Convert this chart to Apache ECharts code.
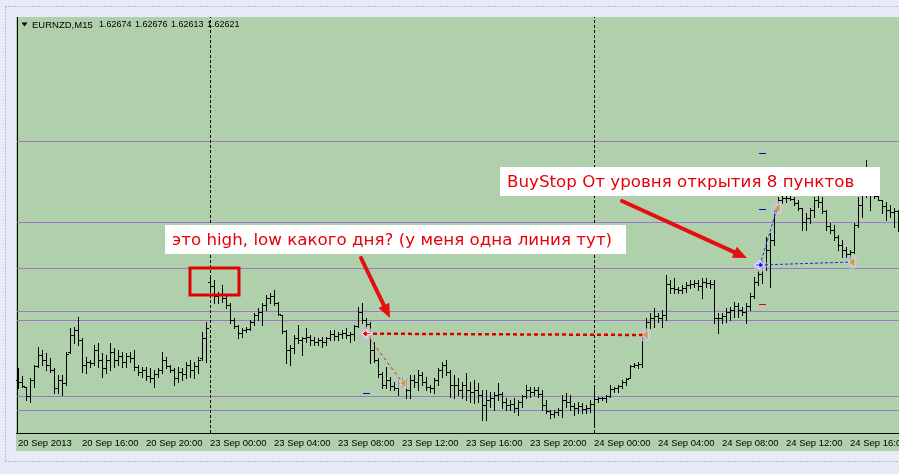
<!DOCTYPE html>
<html><head><meta charset="utf-8">
<script src="https://cdn.jsdelivr.net/npm/echarts@6/dist/echarts.min.js"></script>
<style>html,body{margin:0;padding:0;background:#e9eaf8}#c{width:899px;height:474px}</style>
</head><body><div id="c"></div><script>
// ---- data (EURNZD M15, 20 Sep 2013 12:00 .. 24 Sep 2013 ~19:00) ----
const tickLabels = ["20 Sep 2013","20 Sep 16:00","20 Sep 20:00","23 Sep 00:00","23 Sep 04:00","23 Sep 08:00","23 Sep 12:00","23 Sep 16:00","23 Sep 20:00","24 Sep 00:00","24 Sep 04:00","24 Sep 08:00","24 Sep 12:00","24 Sep 16:00"];
const openP = [
1.62166,1.62160,1.62145,1.62118,1.62166,1.62208,1.62241,1.62226,1.62211,1.62196,
1.62142,1.62166,1.62157,1.62250,1.62301,1.62316,1.62286,1.62211,1.62220,1.62217,
1.62256,1.62226,1.62202,1.62226,1.62250,1.62226,1.62238,1.62220,1.62238,1.62232,
1.62205,1.62190,1.62196,1.62178,1.62172,1.62184,1.62196,1.62226,1.62208,1.62196,
1.62172,1.62190,1.62184,1.62211,1.62196,1.62208,1.62232,1.62292,1.62460,1.62448,
1.62418,1.62424,1.62412,1.62391,1.62346,1.62328,1.62307,1.62316,1.62319,1.62340,
1.62361,1.62370,1.62391,1.62412,1.62418,1.62397,1.62361,1.62313,1.62256,1.62262,
1.62292,1.62286,1.62292,1.62295,1.62286,1.62280,1.62286,1.62280,1.62292,1.62304,
1.62298,1.62304,1.62307,1.62301,1.62304,1.62328,1.62370,1.62346,1.62334,1.62256,
1.62226,1.62184,1.62151,1.62166,1.62148,1.62142,1.62157,1.62160,1.62136,1.62166,
1.62160,1.62181,1.62160,1.62145,1.62142,1.62166,1.62196,1.62211,1.62190,1.62151,
1.62151,1.62136,1.62151,1.62136,1.62130,1.62136,1.62121,1.62091,1.62106,1.62112,
1.62121,1.62124,1.62100,1.62091,1.62094,1.62082,1.62100,1.62118,1.62136,1.62130,
1.62136,1.62124,1.62091,1.62073,1.62064,1.62070,1.62076,1.62106,1.62100,1.62088,
1.62082,1.62088,1.62079,1.62082,1.62094,1.62109,1.62112,1.62112,1.62118,1.62139,
1.62142,1.62148,1.62160,1.62172,1.62208,1.62211,1.62214,1.62304,1.62340,1.62352,
1.62358,1.62352,1.62361,1.62454,1.62442,1.62439,1.62436,1.62442,1.62451,1.62454,
1.62457,1.62448,1.62460,1.62457,1.62454,1.62352,1.62352,1.62358,1.62370,1.62376,
1.62388,1.62376,1.62370,1.62388,1.62418,1.62460,1.62484,1.62511,1.62556,1.62586,
1.62679,1.62706,1.62712,1.62712,1.62709,1.62697,1.62682,1.62640,1.62652,1.62676,
1.62706,1.62700,1.62673,1.62628,1.62616,1.62595,1.62571,1.62556,1.62544,1.62550,
1.62631,1.62691,1.62730,1.62736,1.62721,1.62718,1.62706,1.62688,1.62676,1.62670,
1.62674];
const highP = [
1.62202,1.62178,1.62145,1.62172,1.62211,1.62265,1.62256,1.62247,1.62232,1.62202,
1.62181,1.62181,1.62250,1.62322,1.62325,1.62355,1.62292,1.62235,1.62226,1.62271,
1.62277,1.62247,1.62241,1.62277,1.62262,1.62256,1.62250,1.62247,1.62250,1.62256,
1.62211,1.62205,1.62205,1.62202,1.62196,1.62202,1.62250,1.62235,1.62211,1.62202,
1.62205,1.62202,1.62220,1.62226,1.62220,1.62235,1.62310,1.62340,1.62472,1.62466,
1.62430,1.62451,1.62421,1.62397,1.62352,1.62331,1.62322,1.62325,1.62346,1.62367,
1.62382,1.62397,1.62421,1.62427,1.62436,1.62400,1.62361,1.62316,1.62271,1.62301,
1.62331,1.62295,1.62322,1.62301,1.62295,1.62292,1.62295,1.62295,1.62316,1.62316,
1.62310,1.62316,1.62322,1.62310,1.62331,1.62385,1.62397,1.62352,1.62340,1.62280,
1.62232,1.62190,1.62205,1.62175,1.62160,1.62166,1.62175,1.62172,1.62181,1.62181,
1.62196,1.62190,1.62175,1.62151,1.62172,1.62202,1.62220,1.62226,1.62196,1.62181,
1.62172,1.62160,1.62187,1.62160,1.62166,1.62157,1.62136,1.62136,1.62130,1.62130,
1.62157,1.62130,1.62112,1.62106,1.62112,1.62106,1.62121,1.62151,1.62145,1.62145,
1.62145,1.62136,1.62106,1.62076,1.62076,1.62082,1.62121,1.62127,1.62121,1.62097,
1.62100,1.62097,1.62091,1.62106,1.62142,1.62115,1.62115,1.62121,1.62151,1.62145,
1.62151,1.62166,1.62172,1.62211,1.62217,1.62220,1.62295,1.62352,1.62367,1.62382,
1.62367,1.62376,1.62481,1.62466,1.62472,1.62445,1.62451,1.62460,1.62466,1.62466,
1.62466,1.62472,1.62472,1.62466,1.62466,1.62367,1.62367,1.62382,1.62385,1.62400,
1.62397,1.62385,1.62397,1.62427,1.62475,1.62496,1.62526,1.62595,1.62607,1.62682,
1.62715,1.62727,1.62721,1.62721,1.62715,1.62706,1.62682,1.62667,1.62682,1.62715,
1.62727,1.62715,1.62676,1.62637,1.62631,1.62601,1.62586,1.62565,1.62556,1.62637,
1.62715,1.62745,1.62826,1.62745,1.62727,1.62736,1.62706,1.62700,1.62691,1.62682,
1.62676];
const lowP = [
1.62142,1.62145,1.62106,1.62100,1.62145,1.62205,1.62211,1.62196,1.62190,1.62127,
1.62127,1.62121,1.62151,1.62247,1.62277,1.62271,1.62190,1.62187,1.62205,1.62211,
1.62205,1.62175,1.62187,1.62196,1.62205,1.62211,1.62205,1.62205,1.62220,1.62196,
1.62181,1.62175,1.62166,1.62160,1.62145,1.62175,1.62187,1.62202,1.62190,1.62151,
1.62160,1.62166,1.62172,1.62175,1.62172,1.62187,1.62226,1.62220,1.62436,1.62397,
1.62397,1.62400,1.62382,1.62337,1.62322,1.62292,1.62295,1.62310,1.62316,1.62331,
1.62346,1.62331,1.62376,1.62397,1.62391,1.62361,1.62307,1.62217,1.62211,1.62247,
1.62277,1.62241,1.62280,1.62271,1.62271,1.62271,1.62265,1.62271,1.62286,1.62286,
1.62286,1.62292,1.62292,1.62280,1.62286,1.62325,1.62337,1.62301,1.62217,1.62220,
1.62175,1.62142,1.62142,1.62136,1.62136,1.62121,1.62145,1.62112,1.62112,1.62145,
1.62136,1.62151,1.62136,1.62130,1.62127,1.62151,1.62175,1.62181,1.62115,1.62112,
1.62121,1.62112,1.62106,1.62100,1.62097,1.62100,1.62046,1.62046,1.62085,1.62076,
1.62106,1.62082,1.62076,1.62076,1.62070,1.62061,1.62085,1.62112,1.62115,1.62121,
1.62115,1.62076,1.62067,1.62052,1.62055,1.62061,1.62055,1.62085,1.62076,1.62061,
1.62067,1.62067,1.62067,1.62070,1.62031,1.62100,1.62106,1.62100,1.62115,1.62130,
1.62130,1.62142,1.62151,1.62172,1.62205,1.62202,1.62205,1.62301,1.62322,1.62325,
1.62340,1.62325,1.62346,1.62427,1.62427,1.62427,1.62427,1.62430,1.62442,1.62445,
1.62436,1.62412,1.62445,1.62442,1.62337,1.62307,1.62337,1.62340,1.62346,1.62355,
1.62355,1.62361,1.62337,1.62376,1.62412,1.62451,1.62457,1.62496,1.62445,1.62571,
1.62676,1.62697,1.62700,1.62706,1.62691,1.62676,1.62616,1.62616,1.62637,1.62655,
1.62685,1.62667,1.62616,1.62607,1.62586,1.62556,1.62535,1.62535,1.62517,1.62547,
1.62625,1.62655,1.62715,1.62676,1.62712,1.62706,1.62667,1.62646,1.62655,1.62625,
1.62613];
const closeP = [
1.62160,1.62148,1.62118,1.62166,1.62208,1.62241,1.62226,1.62211,1.62196,1.62142,
1.62166,1.62157,1.62244,1.62301,1.62316,1.62286,1.62211,1.62220,1.62217,1.62256,
1.62226,1.62202,1.62226,1.62250,1.62226,1.62238,1.62220,1.62238,1.62232,1.62205,
1.62190,1.62196,1.62178,1.62172,1.62184,1.62196,1.62226,1.62208,1.62196,1.62172,
1.62190,1.62184,1.62211,1.62196,1.62208,1.62226,1.62292,1.62322,1.62448,1.62418,
1.62424,1.62412,1.62391,1.62346,1.62328,1.62307,1.62316,1.62319,1.62340,1.62361,
1.62370,1.62391,1.62412,1.62418,1.62397,1.62364,1.62313,1.62256,1.62262,1.62292,
1.62286,1.62292,1.62295,1.62286,1.62280,1.62286,1.62280,1.62292,1.62304,1.62298,
1.62304,1.62307,1.62301,1.62304,1.62328,1.62370,1.62346,1.62334,1.62256,1.62226,
1.62184,1.62151,1.62166,1.62148,1.62142,1.62157,1.62160,1.62136,1.62166,1.62160,
1.62181,1.62160,1.62145,1.62142,1.62166,1.62196,1.62211,1.62190,1.62151,1.62151,
1.62136,1.62151,1.62136,1.62130,1.62136,1.62121,1.62091,1.62106,1.62112,1.62121,
1.62124,1.62100,1.62091,1.62094,1.62082,1.62100,1.62118,1.62136,1.62130,1.62136,
1.62124,1.62091,1.62073,1.62064,1.62070,1.62076,1.62106,1.62100,1.62088,1.62082,
1.62088,1.62079,1.62082,1.62094,1.62109,1.62112,1.62112,1.62118,1.62139,1.62142,
1.62148,1.62160,1.62169,1.62208,1.62211,1.62214,1.62292,1.62340,1.62352,1.62358,
1.62352,1.62361,1.62454,1.62442,1.62439,1.62436,1.62442,1.62451,1.62454,1.62457,
1.62448,1.62460,1.62457,1.62454,1.62352,1.62352,1.62358,1.62370,1.62376,1.62388,
1.62376,1.62370,1.62388,1.62418,1.62460,1.62484,1.62511,1.62556,1.62586,1.62676,
1.62706,1.62712,1.62712,1.62709,1.62697,1.62682,1.62640,1.62652,1.62676,1.62706,
1.62700,1.62673,1.62628,1.62616,1.62595,1.62571,1.62556,1.62544,1.62550,1.62631,
1.62691,1.62730,1.62736,1.62721,1.62718,1.62706,1.62688,1.62676,1.62670,1.62673,
1.62621];
const levels = [1.62880,1.62638,1.62499,1.62373,1.62346,1.62115,1.62073];
const separatorBars = [48,144];
const headerValues = ["1.62674","1.62676","1.62613","1.62621"];
const symbolName = "EURNZD,M15";
const note1 = "это high, low какого дня? (у меня одна линия тут)";
const note2 = "BuyStop От уровня открытия 8 пунктов";
// trade / annotation anchors: [bar index, price]
const sellOpen = [87, 1.62305], sellClose1 = [96.2, 1.62157], sellClose2 = [156.8, 1.62301];
const buyOpen = [185.5, 1.62511], buyClose1 = [189.8, 1.62682], buyClose2 = [208.5, 1.62520];
const blueDashes = [[87, 1.62127], [186, 1.62847], [186, 1.62679]];
const redDashes = [[186, 1.62394]];
const arrow1 = [[85.75, 1.62532], [93, 1.62352]];
const arrow2 = [[151, 1.62703], [182.25, 1.62532]];
const redBox = [[43, 1.62502], [55.25, 1.62421]];
const box1 = [[36.75, 1.62631], [152, 1.62544]];
const box2 = [[120.5, 1.62805], [215.5, 1.62718]];

// ---- categories (15-minute bars) ----
const categories = [];
for (let i = 0; i < openP.length; i++) {
  let day, mins;
  if (i < 48) { day = 20; mins = 12 * 60 + 15 * i; }
  else { const t = 15 * (i - 48); day = 23 + Math.floor(t / 1440); mins = t % 1440; }
  const hh = String(Math.floor(mins / 60)).padStart(2, '0'), mm = String(mins % 60).padStart(2, '0');
  categories.push(day + ' Sep ' + hh + ':' + mm);
}

const chart = echarts.init(document.getElementById('c'), null, {renderer: 'canvas', width: 899, height: 474});
const GREEN = '#b0d0ac', LAV = '#e9eaf8', PURPLE = '#9a78cc';

function renderItem(params, api) {
  const i = api.value(0);
  const pO = api.coord([i, api.value(1)]);
  const pH = api.coord([i, api.value(2)]);
  const pL = api.coord([i, api.value(3)]);
  const pC = api.coord([i, api.value(4)]);
  const x = Math.round(pH[0]);
  const yH = Math.round(pH[1]), yL = Math.round(pL[1]);
  const yO = Math.round(pO[1]), yC = Math.round(pC[1]);
  const st = {fill: '#000'};
  return {type: 'group', children: [
    {type: 'rect', shape: {x: x, y: yH, width: 1, height: Math.max(1, yL - yH + 1)}, style: st},
    {type: 'rect', shape: {x: x - 2, y: yO, width: 2, height: 1}, style: st},
    {type: 'rect', shape: {x: x + 1, y: yC, width: 2, height: 1}, style: st}
  ]};
}

const sepData = separatorBars.map(b => ({xAxis: categories[b]}));

chart.setOption({
  animation: false,
  backgroundColor: GREEN,
  grid: {left: 16, top: 17, width: 884, height: 416, containLabel: false, outerBoundsMode: 'none'},
  xAxis: {
    type: 'category', data: categories, boundaryGap: true,
    axisLine: {lineStyle: {color: '#000', width: 1}},
    axisTick: {alignWithLabel: true, interval: 15, length: 3, lineStyle: {color: '#000'}},
    axisLabel: {interval: 15, align: 'left', margin: 5, fontSize: 9.5, fontFamily: 'Liberation Sans, Arial', color: '#000',
      formatter: (v, idx) => tickLabels[Math.round(idx / 16)] || ''},
    splitLine: {show: false}
  },
  yAxis: {
    type: 'value', min: 1.62007, max: 1.63255, offset: -1,
    axisLine: {show: true, lineStyle: {color: '#000', width: 1}},
    axisTick: {show: false}, axisLabel: {show: false}, splitLine: {show: false}
  },
  series: [
    {type: 'custom', z: 3, renderItem: renderItem, encode: {x: 0, y: [1, 2, 3, 4]},
     data: openP.map((o, i) => [i, o, highP[i], lowP[i], closeP[i]]),
     markLine: {symbol: 'none', silent: true, label: {show: false}, animation: false,
       lineStyle: {color: '#000', type: [3, 2], width: 1}, data: sepData}}
  ]
});

// ---- annotations positioned through the axes ----
function px(pt) {
  const a = chart.convertToPixel({gridIndex: 0}, [0, pt[1]]);
  const b = chart.convertToPixel({gridIndex: 0}, [1, pt[1]]);
  return [a[0] + pt[0] * (b[0] - a[0]), a[1]];
}
function arrow(p0, p1, color, w, head, hw) {
  const dx = p1[0] - p0[0], dy = p1[1] - p0[1], L = Math.hypot(dx, dy), ux = dx / L, uy = dy / L;
  const bx = p1[0] - ux * head, by = p1[1] - uy * head;
  return [
    {type: 'line', z: 120, shape: {x1: p0[0], y1: p0[1], x2: bx, y2: by}, style: {stroke: color, lineWidth: w, lineCap: 'round'}},
    {type: 'polygon', z: 120, shape: {points: [[p1[0], p1[1]], [bx - uy * hw, by + ux * hw], [bx + uy * hw, by - ux * hw]]}, style: {fill: color}}
  ];
}
const g = [];
// horizontal levels (through the value axis)
levels.forEach(v => {
  const y = Math.floor(chart.convertToPixel({yAxisIndex: 0}, v));
  g.push({type: 'rect', z: 1, silent: true, shape: {x: 17, y: y, width: 882, height: 1}, style: {fill: PURPLE}});
});
// outer lavender frame
g.push({type: 'rect', z: 200, shape: {x: 0, y: 0, width: 899, height: 17}, style: {fill: LAV}});
g.push({type: 'rect', z: 200, shape: {x: 0, y: 0, width: 16, height: 474}, style: {fill: LAV}});
g.push({type: 'rect', z: 200, shape: {x: 0, y: 451, width: 899, height: 23}, style: {fill: LAV}});
g.push({type: 'line', z: 201, shape: {x1: 5.5, y1: 6.5, x2: 899, y2: 6.5}, style: {stroke: '#8c90a0', lineWidth: 1, lineDash: [1, 2]}});
g.push({type: 'line', z: 201, shape: {x1: 5.5, y1: 6.5, x2: 5.5, y2: 461.5}, style: {stroke: '#8c90a0', lineWidth: 1, lineDash: [1, 2]}});
g.push({type: 'line', z: 201, shape: {x1: 5.5, y1: 461.5, x2: 899, y2: 461.5}, style: {stroke: '#8c90a0', lineWidth: 1, lineDash: [1, 2]}});
// header
g.push({type: 'polygon', z: 150, shape: {points: [[21.5, 22.5], [27.5, 22.5], [24.5, 26.5]]}, style: {fill: '#000'}});
g.push({type: 'text', z: 150, style: {x: 32, y: 25, text: symbolName, fontSize: 9.5, fontFamily: 'Liberation Sans, Arial', fill: '#000', verticalAlign: 'middle'}});
const hx = [99, 135, 171, 207];
headerValues.forEach((t, k) => g.push({type: 'text', z: 150, style: {x: hx[k], y: 25, text: t, fontSize: 9, fontFamily: 'Liberation Sans, Arial', fill: '#000', verticalAlign: 'middle'}}));

// trade lines
const so = px(sellOpen), sc1 = px(sellClose1), sc2 = px(sellClose2);
const bo = px(buyOpen), bc1 = px(buyClose1), bc2 = px(buyClose2);
[so, sc1, sc2, bo, bc1, bc2].forEach(p => g.push({type: 'circle', z: 100, shape: {cx: p[0], cy: p[1], r: 7}, style: {fill: 'rgba(196,196,212,0.75)'}}));
g.push({type: 'line', z: 105, shape: {x1: so[0], y1: so[1], x2: sc2[0], y2: sc2[1]}, style: {stroke: '#e00000', lineWidth: 2.5, lineDash: [4, 3]}});
g.push({type: 'line', z: 105, shape: {x1: so[0], y1: so[1], x2: sc1[0], y2: sc1[1]}, style: {stroke: '#d02020', lineWidth: 1, lineDash: [3, 3]}});
g.push({type: 'line', z: 105, shape: {x1: bo[0], y1: bo[1], x2: bc2[0], y2: bc2[1]}, style: {stroke: '#1030e0', lineWidth: 1, lineDash: [3, 2]}});
g.push({type: 'line', z: 105, shape: {x1: bo[0], y1: bo[1], x2: bc1[0], y2: bc1[1]}, style: {stroke: '#1030e0', lineWidth: 1, lineDash: [3, 2]}});
[sc1, sc2, bc1, bc2].forEach(p => g.push({type: 'polygon', z: 110, shape: {points: [[p[0] - 3, p[1]], [p[0] + 3, p[1] - 5], [p[0] + 3, p[1] + 5]]}, style: {fill: '#c8a03c', stroke: '#fff', lineWidth: 0.5}}));
g.push({type: 'polygon', z: 110, shape: {points: [[so[0] - 4, so[1]], [so[0] + 1, so[1] - 4], [so[0] + 1, so[1] - 1], [so[0] + 5, so[1] - 1], [so[0] + 5, so[1] + 1], [so[0] + 1, so[1] + 1], [so[0] + 1, so[1] + 4]]}, style: {fill: '#e00000', stroke: '#fff', lineWidth: 1}});
g.push({type: 'polygon', z: 110, shape: {points: [[bo[0] + 4, bo[1]], [bo[0] - 1, bo[1] - 4], [bo[0] - 1, bo[1] - 1], [bo[0] - 5, bo[1] - 1], [bo[0] - 5, bo[1] + 1], [bo[0] - 1, bo[1] + 1], [bo[0] - 1, bo[1] + 4]]}, style: {fill: '#0020ff', stroke: '#fff', lineWidth: 1}});
blueDashes.forEach(d => { const p = px(d); g.push({type: 'rect', z: 110, shape: {x: Math.round(p[0]) - 3, y: Math.round(p[1]), width: 7, height: 1}, style: {fill: '#0000e0'}}); });
redDashes.forEach(d => { const p = px(d); g.push({type: 'rect', z: 110, shape: {x: Math.round(p[0]) - 3, y: Math.round(p[1]), width: 7, height: 1}, style: {fill: '#e00000'}}); });

// red rectangle
const rb0 = px(redBox[0]), rb1 = px(redBox[1]);
g.push({type: 'rect', z: 120, shape: {x: rb0[0], y: rb0[1], width: rb1[0] - rb0[0], height: rb1[1] - rb0[1]}, style: {fill: 'none', stroke: '#e00000', lineWidth: 3}});
// text boxes
[[box1, note1], [box2, note2]].forEach(([b, t]) => {
  const p0 = px(b[0]), p1 = px(b[1]);
  g.push({type: 'rect', z: 130, shape: {x: p0[0], y: p0[1], width: p1[0] - p0[0], height: p1[1] - p0[1]}, style: {fill: '#fff'}});
  g.push({type: 'text', z: 131, style: {x: p0[0] + 7, y: (p0[1] + p1[1]) / 2 + 1, text: t, fontSize: 16.7, fontFamily: 'DejaVu Sans', fill: '#e8000a', verticalAlign: 'middle'}});
});
// arrows
arrow(px(arrow1[0]), px(arrow1[1]), '#e41010', 4, 14, 6).forEach(e => g.push(e));
arrow(px(arrow2[0]), px(arrow2[1]), '#e41010', 4, 14, 6).forEach(e => g.push(e));

chart.setOption({graphic: {elements: g}});
</script></body></html>
